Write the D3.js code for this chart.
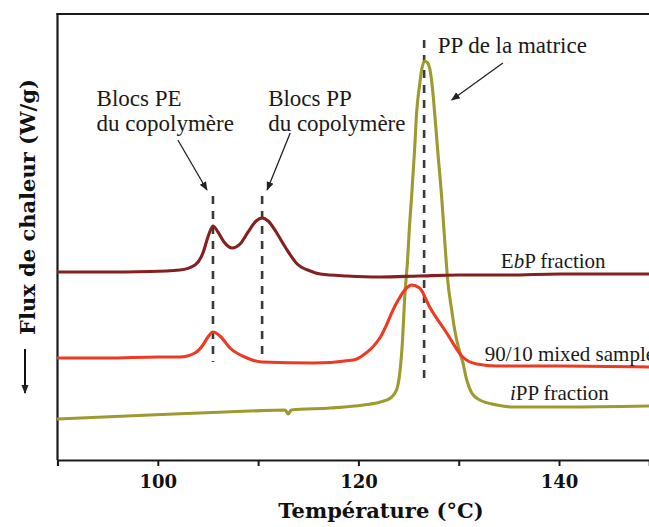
<!DOCTYPE html>
<html><head><meta charset="utf-8">
<script src="https://cdn.jsdelivr.net/npm/d3@7"></script>
<style>html,body{margin:0;padding:0;background:#fff;} svg{display:block;}</style>
</head><body>
<script>
// ---- data (temperature °C, heat flow offset in arbitrary units) ----
const ebpT = [90,94.2,99.2,102.2,103.7,104.5,105.0,105.5,106.0,106.6,107.4,108.2,109.0,109.8,110.4,111.0,111.8,112.7,113.9,115.2,116.2,118.9,122.2,126,130,135,140,149];
const ebpV = [188,188,188.5,190,195,207,223,234,228,218,212,216,228,239,242,239,228,213,196,189,186,184,183,184,185,185,186,186];

const mixT = [90,95,100,102.2,103.7,104.5,105.0,105.5,106.2,107.2,108.9,110.4,115.5,119.5,120.5,122.2,123.8,124.8,125.3,126.1,127.1,128.8,130.4,131.8,133.8,140,149];
const mixV = [102,102,103,103,107,115,123,128,124,112,102,98,97,100,105,123,157,172,175,172,153,127,103,96,94,94,93];

const ippT = [90,99.2,109.2,112.7,113.0,113.3,117.2,120.5,122.2,123.2,123.8,124.1,124.4,124.6,124.9,125.1,125.3,125.6,125.8,126.1,126.3,126.6,126.9,127.1,127.4,127.6,127.9,128.3,128.6,128.9,129.3,129.6,130.1,130.4,130.8,131.3,132.1,133.8,135.4,140.4,149];
const ippV = [41,45,49,50,46,50,52,55,58,62,70,85,120,160,200,235,263,310,347,375,390,399,397,392,370,347,310,263,220,180,150,130,108,98,80,67,60,55,53,53,54];

const seriesNames = ["EbP fraction","90/10 mixed sample","iPP fraction"];
const seriesColors = ["#84201f","#ee3a22","#9d9a30"];

const xTicks = [90,100,110,120,130,140];
const xTickLabels = ["","100","","120","","140"];

// dashed reference lines: temperature, from value, to value
const refT = [105.5,110.4,126.55];
const refV0 = [98,100,78];
const refV1 = [264,264,420];

// annotations
const annText = ["Blocs PE","du copolymère","Blocs PP","du copolymère","PP de la matrice"];
const annT = [93.9,93.9,111.0,111.0,127.9];
const annV = [354,329,354,329,407];
// annotation arrows: from (T,V) to (T,V)
const arrFromT = [102.0,113.2,134.4];
const arrFromV = [320,327,397];
const arrToT = [104.9,110.9,129.3];
const arrToV = [270,270,360];

// series labels
const labT = [134.2,132.6,135.1];
const labV = [192,99,60];

// ---- drawing ----
const W = 649, H = 527;
const svg = d3.select("body").append("svg").attr("width",W).attr("height",H)
  .style("background","#fff");

const x = d3.scaleLinear().domain([90,149]).range([57.5,649.3]);
const y = d3.scaleLinear().domain([0,446]).range([460,14]);

const defs = svg.append("defs");
defs.append("marker").attr("id","ah").attr("viewBox","0 0 10 10")
  .attr("refX",9).attr("refY",5).attr("markerWidth",9).attr("markerHeight",9)
  .attr("markerUnits","userSpaceOnUse").attr("orient","auto")
  .append("path").attr("d","M0,1 L10,5 L0,9 Z").attr("fill","#222");
defs.append("clipPath").attr("id","plotclip").append("rect")
  .attr("x",57).attr("y",14).attr("width",W-57).attr("height",446);

// axes frame
const xAxis = d3.axisBottom(x).tickValues(xTicks)
  .tickFormat(d=>xTickLabels[xTicks.indexOf(d)]).tickSizeOuter(0).tickSize(6);
const gx = svg.append("g").attr("transform",`translate(0,${y(0)})`).call(xAxis);
gx.select(".domain").attr("stroke","#1a1a1a").attr("stroke-width",2.2);
gx.selectAll(".tick line").attr("stroke","#1a1a1a").attr("stroke-width",2);
gx.selectAll(".tick text").attr("font-family","DejaVu Serif").attr("font-weight","bold")
  .attr("font-size",18).attr("fill","#111").attr("dy","1.05em");

svg.append("line").attr("x1",x(90)).attr("x2",x(90)).attr("y1",y(446)-1).attr("y2",y(0))
  .attr("stroke","#1a1a1a").attr("stroke-width",2.2);
svg.append("line").attr("x1",x(90)-1).attr("x2",W).attr("y1",y(446)).attr("y2",y(446))
  .attr("stroke","#1a1a1a").attr("stroke-width",2.2);

// axis titles
svg.append("text").attr("x",381).attr("y",518).attr("text-anchor","middle")
  .attr("font-family","DejaVu Serif").attr("font-weight","bold").attr("font-size",21)
  .attr("fill","#111").text("Température (°C)");
svg.append("text").attr("transform","translate(35,207) rotate(-90)").attr("text-anchor","middle")
  .attr("font-family","DejaVu Serif").attr("font-weight","bold").attr("font-size",21)
  .attr("fill","#111").text("Flux de chaleur (W/g)");
svg.append("line").attr("x1",25).attr("x2",25).attr("y1",349).attr("y2",393)
  .attr("stroke","#111").attr("stroke-width",2).attr("marker-end","url(#ah)");

const plot = svg.append("g").attr("clip-path","url(#plotclip)");

// dashed reference lines
refT.forEach((t,i)=>{
  plot.append("line").attr("x1",x(t)).attr("x2",x(t)).attr("y1",y(refV1[i])).attr("y2",y(refV0[i]))
    .attr("stroke","#3a3a3a").attr("stroke-width",2.6).attr("stroke-dasharray","8,7");
});

// curves
const line = d3.line().x(d=>x(d[0])).y(d=>y(d[1])).curve(d3.curveMonotoneX);
const series = [
  d3.zip(ebpT,ebpV), d3.zip(mixT,mixV), d3.zip(ippT,ippV)
];
[2,1,0].forEach(i=>{
  plot.append("path").datum(series[i]).attr("d",line).attr("fill","none")
    .attr("stroke",seriesColors[i]).attr("stroke-width",3.1)
    .attr("stroke-linejoin","round").attr("stroke-linecap","round");
});

// annotations
annText.forEach((t,i)=>{
  svg.append("text").attr("x",x(annT[i])).attr("y",y(annV[i]))
    .attr("font-family","Liberation Serif").attr("font-size",23).attr("fill","#1a1a1a").text(t);
});
arrFromT.forEach((t,i)=>{
  svg.append("line").attr("x1",x(t)).attr("y1",y(arrFromV[i]))
    .attr("x2",x(arrToT[i])).attr("y2",y(arrToV[i]))
    .attr("stroke","#222").attr("stroke-width",1.3).attr("marker-end","url(#ah)");
});

// series labels
const labG = svg.append("g").attr("font-family","Liberation Serif").attr("font-size",21).attr("fill","#1a1a1a");
let t0 = labG.append("text").attr("x",x(labT[0])).attr("y",y(labV[0]));
t0.append("tspan").text("E"); t0.append("tspan").attr("font-style","italic").text("b"); t0.append("tspan").text("P fraction");
labG.append("text").attr("x",x(labT[1])).attr("y",y(labV[1])).text(seriesNames[1]);
let t2 = labG.append("text").attr("x",x(labT[2])).attr("y",y(labV[2]));
t2.append("tspan").attr("font-style","italic").text("i"); t2.append("tspan").text("PP fraction");
</script>
</body></html>
